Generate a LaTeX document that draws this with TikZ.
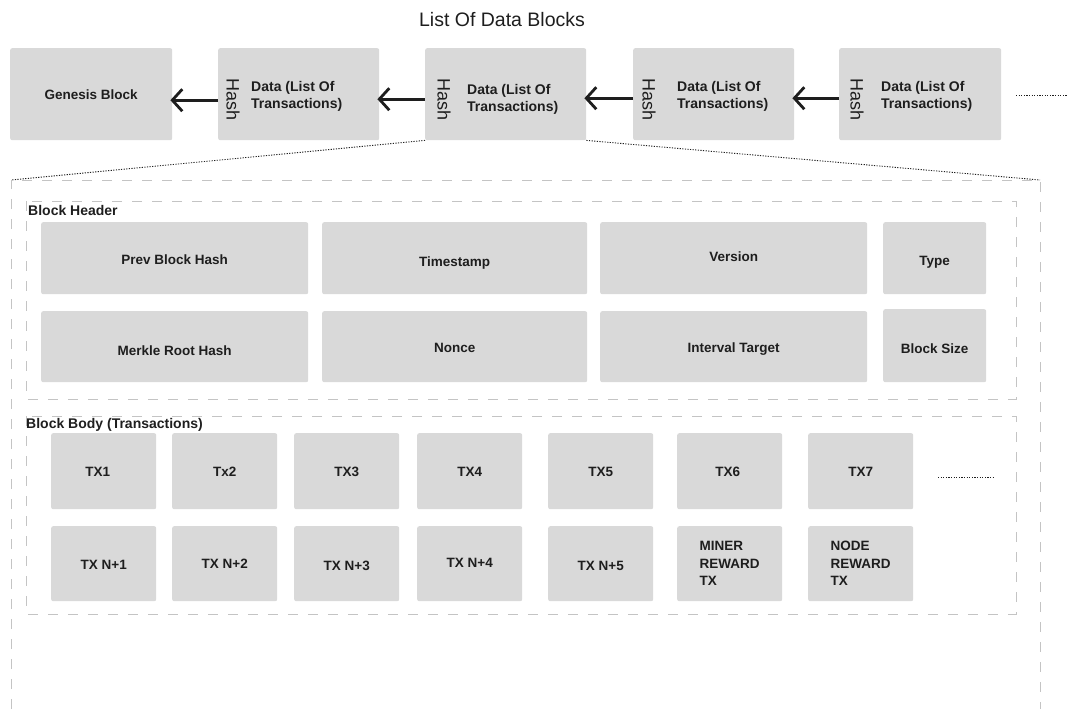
\documentclass[tikz,border=0pt]{standalone}
\usepackage{fontspec}
\setmainfont{Liberation Sans}
\usetikzlibrary{arrows.meta,calc}
\definecolor{boxgray}{HTML}{D9D9D9}
\definecolor{dashgray}{HTML}{C4C4C4}
\definecolor{ink}{HTML}{1E1E1E}

\begin{document}
\begin{tikzpicture}[x=1pt,y=-1pt,
  cell/.style={fill=boxgray, draw=none, rounded corners=2pt, anchor=north west,
    inner sep=0pt, text=ink, font=\bfseries\fontsize{13.5}{17.5}\selectfont, align=left},
  oneline/.style={text height=9.7pt, text depth=0pt},
  blockbox/.style={cell, minimum height=92pt},
  hdrcell/.style={cell, oneline, minimum height=72pt},
  txcell/.style={cell, minimum width=105pt, minimum height=75pt},
  hashlbl/.style={rotate=-90, inner sep=0pt, text=ink, font=\fontsize{18}{20}\selectfont},
  datalbl/.style={anchor=west, align=left, inner sep=0pt, text=ink,
    font=\bfseries\fontsize{14}{17}\selectfont},
  grouplbl/.style={anchor=west, inner sep=0pt, text=ink, font=\bfseries\fontsize{14}{16}\selectfont},
  dashbox/.style={draw=dashgray, line width=1pt, dash pattern=on 10pt off 10pt},
  dotline/.style={draw=ink, line width=0.9pt, dash pattern=on 1.2pt off 1.4pt},
  chain/.style={draw=ink, line width=2.8pt, -{Straight Barb[length=10pt,width=22pt,line width=2.8pt]}}
]
\useasboundingbox (0,0) rectangle (1067,709);

% title
\node[text=ink, font=\fontsize{19.5}{22}\selectfont] (title) at (502,20) {List Of Data Blocks};

% chain of blocks
\node[blockbox, minimum width=162pt, align=center] (gen) at (10,48) {Genesis Block};
\node[blockbox, minimum width=161pt] (b2) at (218,48) {};
\node[blockbox, minimum width=161pt] (b3) at (425,48) {};
\node[blockbox, minimum width=161pt] (b4) at (633,48) {};
\node[blockbox, minimum width=162pt] (b5) at (839,48) {};

\node[hashlbl] (h2) at ($(b2.west)+(15,5)$) {Hash};
\node[hashlbl] (h3) at ($(b3.west)+(19,5)$) {Hash};
\node[hashlbl] (h4) at ($(b4.west)+(16,5)$) {Hash};
\node[hashlbl] (h5) at ($(b5.west)+(18,5)$) {Hash};

\node[datalbl] (d2) at ($(b2.west)+(33,2.5)$) {Data (List Of\\Transactions)};
\node[datalbl] (d3) at ($(b3.west)+(42,5)$) {Data (List Of\\Transactions)};
\node[datalbl] (d4) at ($(b4.west)+(44,2)$) {Data (List Of\\Transactions)};
\node[datalbl] (d5) at ($(b5.west)+(42,2)$) {Data (List Of\\Transactions)};

\draw[chain] ($(b2.west)+(0,6)$) -- ($(gen.east)+(-2,6)$);
\draw[chain] ($(b3.west)+(0,5)$) -- ($(b2.east)+(-2,5)$);
\draw[chain] ($(b4.west)+(0,4)$) -- ($(b3.east)+(-2,4)$);
\draw[chain] ($(b5.west)+(0,4)$) -- ($(b4.east)+(-2,4)$);

\coordinate (moreA) at (1016,95);
\coordinate (moreB) at (1067,95);
\draw[dotline] (moreA) -- (moreB);

% expanded view of one block
\coordinate (outerTL) at (11,180);
\coordinate (outerTR) at (1040,180);
\draw[dashbox] (11,709) -- (outerTL) -- (outerTR) -- (1040,709);
\draw[dotline] (b3.south west) -- (outerTL);
\draw[dotline] (b3.south east) -- (outerTR);

% block header
\draw[dashbox] (26,201) rectangle (1016,399);
\node[grouplbl] (hdrlbl) at (28,210) {Block Header};

\node[hdrcell, minimum width=267pt] (prev) at (41,222) {\raisebox{-1pt}{Prev Block Hash}};
\node[hdrcell, minimum width=265pt] (ts) at (322,222) {\raisebox{-3pt}{Timestamp}};
\node[hdrcell, minimum width=267pt] (ver) at (600,222) {\raisebox{2pt}{Version}};
\node[hdrcell, minimum width=103pt] (typ) at (883,222) {\raisebox{-2pt}{Type}};
\node[hdrcell, minimum width=267pt, minimum height=71pt] (merk) at (41,311) {\raisebox{-3.5pt}{Merkle Root Hash}};
\node[hdrcell, minimum width=265pt, minimum height=71pt] (nonce) at (322,311) {\raisebox{-0.5pt}{Nonce}};
\node[hdrcell, minimum width=267pt, minimum height=71pt] (itgt) at (600,311) {\raisebox{-0.5pt}{Interval Target}};
\node[hdrcell, minimum width=103pt, minimum height=73pt] (bsize) at (883,309) {\raisebox{-2.5pt}{Block Size}};

% block body
\draw[dashbox] (26,416) rectangle (1016,614);
\node[grouplbl] (bodylbl) at (26,425) {Block Body (Transactions)};

\node[txcell, oneline, minimum height=76pt] (tx1) at (51,433) {\hspace*{-12pt}TX1};
\node[txcell, oneline, minimum height=76pt] (tx2) at (172,433) {Tx2};
\node[txcell, oneline, minimum height=76pt] (tx3) at (294,433) {TX3};
\node[txcell, oneline, minimum height=76pt] (tx4) at (417,433) {TX4};
\node[txcell, oneline, minimum height=76pt] (tx5) at (548,433) {TX5};
\node[txcell, oneline, minimum height=76pt] (tx6) at (677,433) {\hspace*{-4pt}TX6};
\node[txcell, oneline, minimum height=76pt] (tx7) at (808,433) {TX7};

\node[txcell, oneline] (txn1) at (51,526) {\raisebox{-0.5pt}{TX N+1}};
\node[txcell, oneline] (txn2) at (172,526) {\raisebox{0.5pt}{TX N+2}};
\node[txcell, oneline] (txn3) at (294,526) {\raisebox{-1.5pt}{TX N+3}};
\node[txcell, oneline] (txn4) at (417,526) {\raisebox{1.5pt}{TX N+4}};
\node[txcell, oneline] (txn5) at (548,526) {\raisebox{-1.5pt}{TX N+5}};
\node[txcell] (miner) at (677,526) {MINER\\REWARD\\TX};
\node[txcell] (nodetx) at (808,526) {NODE\\REWARD\\TX};

\coordinate (txmoreA) at (938,477);
\coordinate (txmoreB) at (995,477);
\draw[dotline] (txmoreA) -- (txmoreB);
\end{tikzpicture}
\end{document}
